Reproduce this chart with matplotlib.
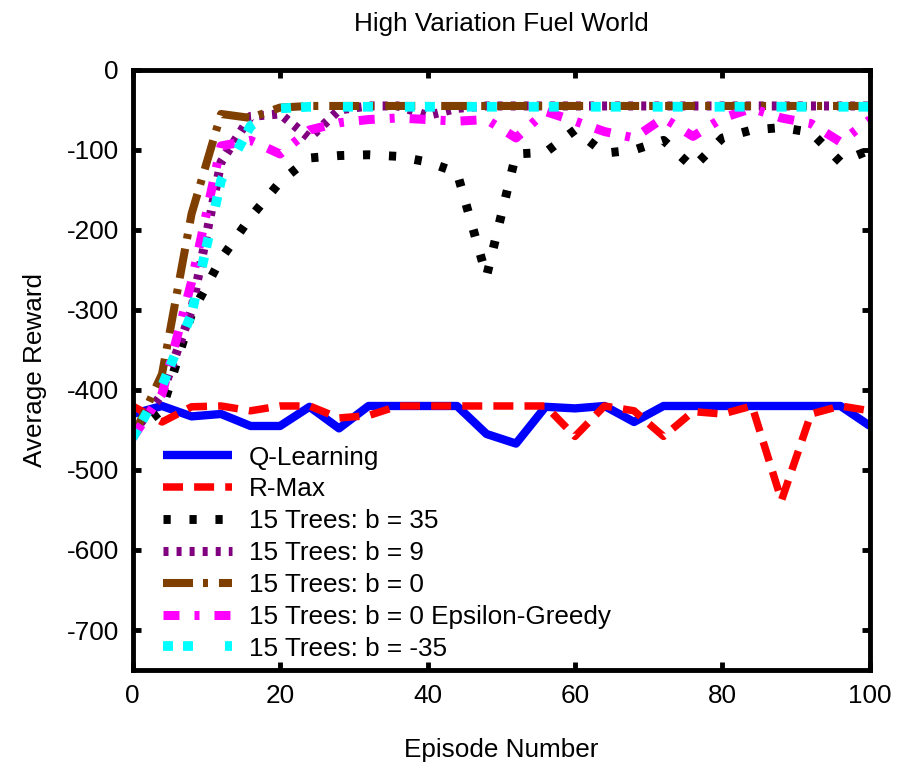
import matplotlib
matplotlib.use("Agg")
import matplotlib.pyplot as plt

plt.rcParams['font.family'] = ['Liberation Sans', 'DejaVu Sans']
plt.rcParams['lines.scale_dashes'] = False
plt.rcParams['axes.unicode_minus'] = False

episodes = [0, 4, 8, 12, 16, 20, 24, 28, 32, 36, 40, 44, 48, 52, 56, 60, 64, 68, 72, 76, 80, 84, 88, 92, 96, 100]

q_learning = [-430, -420, -433, -430, -445, -445, -421, -448, -420, -420, -420, -420, -455,
              -467, -421, -423, -420, -440, -420, -420, -420, -420, -420, -420, -420, -445]
r_max = [-420, -440, -421, -420, -426, -420, -420, -435, -432, -420, -420, -420, -420,
         -420, -420, -458, -420, -426, -458, -427, -430, -420, -538, -430, -420, -426]
trees_b35 = [-455, -425, -305, -236, -184, -140, -110, -107, -106, -108, -115, -128, -258,
             -105, -103, -75, -104, -100, -88, -122, -85, -75, -72, -78, -115, -100]
trees_b9 = [-455, -405, -300, -115, -58, -55, -85, -50, -45, -45, -57, -48, -45,
            -45, -45, -45, -45, -45, -45, -45, -45, -45, -45, -45, -45, -45]
trees_b0 = [-460, -380, -180, -55, -60, -47, -45, -45, -45, -45, -45, -45, -45,
            -45, -45, -45, -45, -45, -45, -45, -45, -45, -45, -45, -45, -45]
trees_b0_eg = [-460, -405, -265, -95, -88, -105, -75, -66, -62, -60, -62, -64, -62,
               -85, -52, -64, -77, -85, -60, -83, -60, -48, -60, -67, -90, -62]
trees_bm35 = [-460, -395, -305, -138, -70, -48, -46, -46, -46, -46, -46, -46, -46,
              -46, -46, -46, -46, -46, -46, -46, -46, -46, -46, -46, -46, -46]

labels = ["Q-Learning", "R-Max", "15 Trees: b = 35", "15 Trees: b = 9",
          "15 Trees: b = 0", "15 Trees: b = 0 Epsilon-Greedy", "15 Trees: b = -35"]

FS = 18.8

fig = plt.figure(figsize=(8.98, 7.68), dpi=100)
ax = fig.add_axes([0.1476, 0.1276, 0.8212, 0.7813])

ax.plot(episodes, q_learning, color="#0000FF", lw=6.0, solid_capstyle='butt', label=labels[0])
ax.plot(episodes, r_max, color="#FF0000", lw=5.4, linestyle=(0, (14.4, 8)), label=labels[1])
ax.plot(episodes, trees_b35, color="#000000", lw=6.4, linestyle=(0, (5.2, 13.5)), label=labels[2])
ax.plot(episodes, trees_b9, color="#800080", lw=6.5, linestyle=(0, (3.6, 5.8)), label=labels[3])
ax.plot(episodes, trees_b0, color="#7F3F00", lw=5.8, linestyle=(0, (21.6, 7.2, 3.6, 7.9)), label=labels[4])
ax.plot(episodes, trees_b0_eg, color="#FF00FF", lw=6.5, linestyle=(0, (11.5, 10.8, 3.6, 10.8)), label=labels[5])
ax.plot(episodes, trees_bm35, color="#00FFFF", lw=7.0, linestyle=(0, (7.2, 7.2, 7.2, 23)), label=labels[6])

ax.set_xlim(0, 100)
ax.set_ylim(-750, 0)
ax.set_xticks([0, 20, 40, 60, 80, 100])
ax.set_yticks([0, -100, -200, -300, -400, -500, -600, -700])

for sp in ax.spines.values():
    sp.set_linewidth(3.5)
ax.tick_params(direction='in', length=6, width=3.5, top=True, right=True,
               labelsize=FS, pad=10)

ax.set_title("High Variation Fuel World", fontsize=FS, pad=28)
ax.set_xlabel("Episode Number", fontsize=FS, labelpad=22)
ax.set_ylabel("Average Reward", fontsize=FS, labelpad=14)

ax.legend(loc='upper left', bbox_to_anchor=(0.041, 0.374), frameon=False,
          fontsize=FS, handlelength=2.65, handletextpad=0.64, labelspacing=0.30,
          borderpad=0, borderaxespad=0)

fig.savefig("out.png", dpi=100)
